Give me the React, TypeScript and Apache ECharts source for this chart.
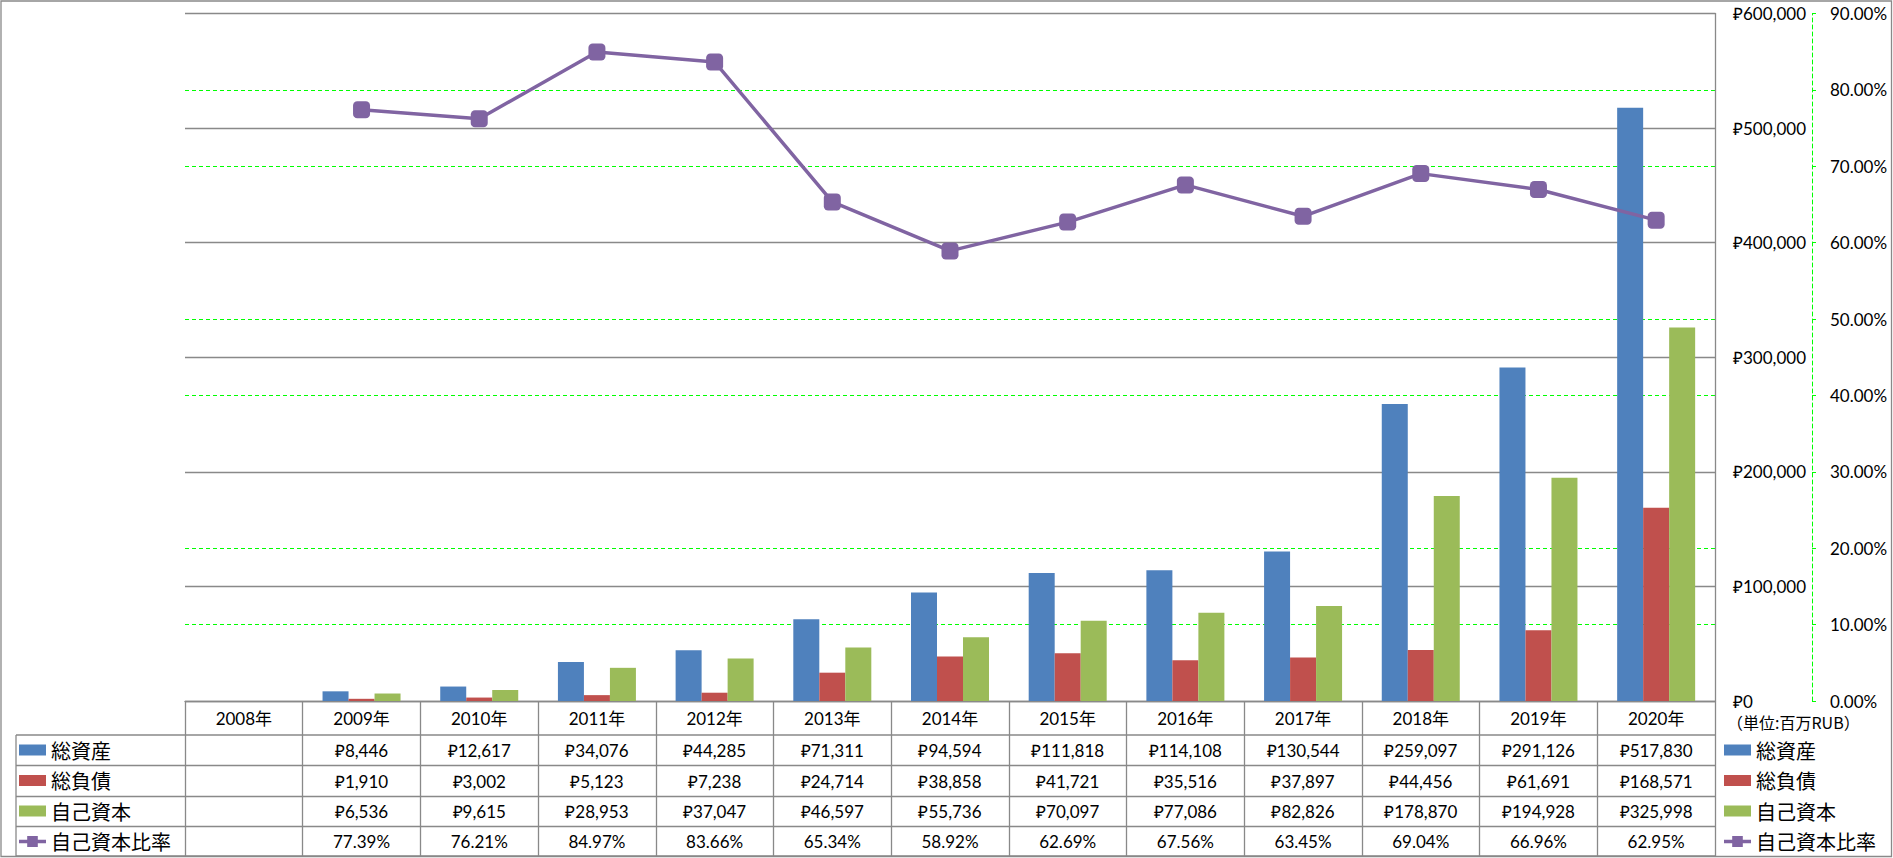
import React, { useEffect, useRef } from "react";
import * as echarts from "echarts";

const categories = ["2008年", "2009年", "2010年", "2011年", "2012年", "2013年", "2014年", "2015年", "2016年", "2017年", "2018年", "2019年", "2020年"];
const totalAssets = [null, 8446, 12617, 34076, 44285, 71311, 94594, 111818, 114108, 130544, 259097, 291126, 517830];
const totalLiabilities = [null, 1910, 3002, 5123, 7238, 24714, 38858, 41721, 35516, 37897, 44456, 61691, 168571];
const equity = [null, 6536, 9615, 28953, 37047, 46597, 55736, 70097, 77086, 82826, 178870, 194928, 325998];
const equityRatio = [null, 77.39, 76.21, 84.97, 83.66, 65.34, 58.92, 62.69, 67.56, 63.45, 69.04, 66.96, 62.95];
const seriesNames = ["総資産", "総負債", "自己資本", "自己資本比率"];
const unitNote = "（単位:百万RUB）";

const LAT = "Lato, 'Noto Sans CJK JP', sans-serif";
const JP = "'Noto Sans CJK JP', sans-serif";
const GRAY = "#898989";
const LINE_ICON = "path://M0,5L8.5,5L8.5,0.5L19.5,0.5L19.5,5L28,5L28,9L19.5,9L19.5,13.5L8.5,13.5L8.5,9L0,9Z";

const money = (v: number | null) => (v == null ? "" : "₽" + v.toLocaleString("en-US"));
const pct = (v: number | null) => (v == null ? "" : v.toFixed(2) + "%");

export default function App() {
  const ref = useRef<HTMLDivElement>(null);
  useEffect(() => {
    document.body.style.margin = "0";
    const chart = echarts.init(ref.current!, null, { renderer: "svg", width: 1893, height: 858 });

    const gridL = 185, gridR = 1715, gridT = 13.5, gridB = 701;
    const rowLines = [735, 765.5, 796.5, 826.5];
    const rowCenters = [750, 781, 811.5, 841];
    const rowStrings = [
      totalAssets.map(money),
      totalLiabilities.map(money),
      equity.map(money),
      equityRatio.map(pct),
    ];

    const rowAxes = rowStrings.map((arr, i) => ({
      type: "category",
      gridIndex: 0,
      position: "bottom",
      offset: rowCenters[i] - gridB,
      data: arr,
      axisLine: { show: false },
      axisTick: { show: false },
      axisLabel: { interval: 0, margin: 0, verticalAlign: "middle", fontSize: 17, fontFamily: LAT, color: "#000" },
      splitLine: { show: false },
    }));

    const graphics: any[] = [
      { type: "rect", shape: { x: 1, y: 1, width: 1890.5, height: 855.5 }, style: { fill: "none", stroke: GRAY, lineWidth: 1.3 }, silent: true },
      { type: "line", shape: { x1: 16, y1: rowLines[0], x2: 16, y2: 856 }, style: { stroke: GRAY, lineWidth: 1.3 } },
      ...rowLines.map((y) => ({ type: "line", shape: { x1: 16, y1: y, x2: gridR, y2: y }, style: { stroke: GRAY, lineWidth: 1.3 } })),
      { type: "line", shape: { x1: 16, y1: 856, x2: gridR, y2: 856 }, style: { stroke: GRAY, lineWidth: 1.3 } },
      { type: "text", left: 1727, top: 714, style: { text: unitNote, fontSize: 16, fontFamily: JP, fill: "#000" } },
    ];

    const legendData = [
      { name: seriesNames[0], icon: "rect" },
      { name: seriesNames[1], icon: "rect" },
      { name: seriesNames[2], icon: "rect" },
      { name: seriesNames[3], icon: LINE_ICON },
    ];
    const legendBase = {
      orient: "vertical",
      padding: 0,
      itemWidth: 27,
      itemHeight: 11,
      itemGap: 10.5,
      symbolKeepAspect: false,
      selectedMode: false,
      data: legendData,
      textStyle: { fontSize: 20, lineHeight: 20, fontFamily: JP, color: "#000" },
    };

    chart.setOption({
      animation: false,
      backgroundColor: "#fff",
      grid: { left: gridL, right: 1893 - gridR, top: gridT, bottom: 858 - gridB, containLabel: false },
      legend: [
        { ...legendBase, left: 19, top: 740 },
        { ...legendBase, left: 1724, top: 740 },
      ],
      xAxis: [
        {
          type: "category",
          data: categories,
          boundaryGap: true,
          axisLine: { show: true, lineStyle: { color: GRAY, width: 1.3 } },
          axisTick: { show: true, interval: 0, length: 155, inside: false, lineStyle: { color: GRAY, width: 1.3 } },
          axisLabel: { interval: 0, margin: 17, verticalAlign: "middle", fontSize: 17, fontFamily: LAT, color: "#000" },
          splitLine: { show: false },
        },
        ...rowAxes,
      ],
      yAxis: [
        {
          type: "value",
          position: "right",
          z: 1,
          min: 0,
          max: 600000,
          interval: 100000,
          axisLine: { show: true, lineStyle: { color: GRAY, width: 1.3 } },
          axisTick: { show: false },
          axisLabel: { margin: 18, fontSize: 17, fontFamily: LAT, color: "#000", formatter: (v: number) => "₽" + v.toLocaleString("en-US") },
          splitLine: { show: true, lineStyle: { color: GRAY, width: 1.3 } },
        },
        {
          type: "value",
          position: "right",
          offset: 97,
          z: 0,
          min: 0,
          max: 90,
          interval: 10,
          axisLine: { show: true, lineStyle: { color: "#00ff00", width: 1, type: [4, 3] } },
          axisTick: { show: true, length: 4, inside: false, lineStyle: { color: "#00ff00", width: 1 } },
          axisLabel: { margin: 18, fontSize: 17, fontFamily: LAT, color: "#000", formatter: (v: number) => v.toFixed(2) + "%" },
          splitLine: { show: true, lineStyle: { color: "#00ff00", width: 1, type: [4, 3] } },
        },
      ],
      series: [
        { name: seriesNames[0], type: "bar", data: totalAssets, barWidth: 26, barGap: "0%", itemStyle: { color: "#4F81BD" } },
        { name: seriesNames[1], type: "bar", data: totalLiabilities, barWidth: 26, barGap: "0%", itemStyle: { color: "#C0504D" } },
        { name: seriesNames[2], type: "bar", data: equity, barWidth: 26, barGap: "0%", itemStyle: { color: "#9BBB59" } },
        {
          name: seriesNames[3],
          type: "line",
          yAxisIndex: 1,
          data: equityRatio,
          symbol: "roundRect",
          symbolSize: 17,
          z: 5,
          lineStyle: { color: "#8064A2", width: 3.5 },
          itemStyle: { color: "#8064A2" },
        },
      ],
      graphic: graphics,
    });

    return () => chart.dispose();
  }, []);
  return <div ref={ref} style={{ width: 1893, height: 858 }} />;
}
